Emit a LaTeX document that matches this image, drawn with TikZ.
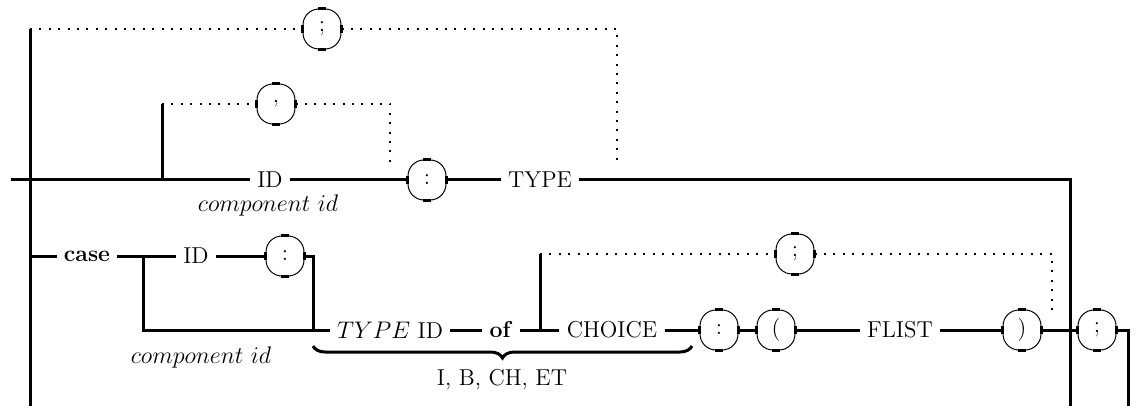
\documentclass[tikz,border=0pt]{standalone}
\usetikzlibrary{decorations.pathreplacing}
\begin{document}
\begin{tikzpicture}[x=0.5pt,y=-0.5pt,
  rail/.style={line width=1.5pt},
  loop/.style={line width=1pt, dash pattern=on 1pt off 3.7pt},
  term/.style={font=\fontsize{11.5}{13}\selectfont, inner xsep=3.5pt, inner ysep=2pt},
  tok/.style={draw, line width=0.5pt, rounded corners=8pt, minimum width=19pt,
    minimum height=20pt, inner sep=0pt, font=\fontsize{11.5}{13}\selectfont},
  note/.style={font=\fontsize{11.5}{13}\selectfont, inner sep=0pt}]
\useasboundingbox (0,0) rectangle (1138,406);

% left spine
\coordinate (lt) at (30,29);
\coordinate (lb) at (30,406);
\draw[rail] (lt) -- (lb);

% field list row
\coordinate (s) at (11,180);
\coordinate (j1) at (162,180);
\node[term] (id1) at (270,180) {ID};
\node[tok] (c1) at (427,180) {:};
\node[term] (type1) at (540,180) {TYPE};
\coordinate (e1) at (1070,180);
\coordinate (e1b) at (1070,406);
\draw[rail] (s) -- (j1) -- (id1);
\draw[rail] (id1) -- (c1);
\draw[rail] (c1) -- (type1);
\draw[rail] (type1) -- (e1) -- (e1b);
\node[note] (cid1) at (268,206) {$component\ id$};

% repetition with ';'
\node[tok] (semi1) at (322,29) {;};
\coordinate (d1b) at (617,29);
\coordinate (d1c) at (617,166);
\draw[loop] (lt) -- (semi1);
\draw[loop] (semi1) -- (d1b) -- (d1c);

% repetition with ','
\coordinate (j1t) at (162,104);
\node[tok] (comma) at (276,104) {,};
\coordinate (d2b) at (390,104);
\coordinate (d2c) at (390,166);
\draw[rail] (j1) -- (j1t);
\draw[loop] (j1t) -- (comma);
\draw[loop] (comma) -- (d2b) -- (d2c);

% variant part
\coordinate (l2) at (30,256);
\node[term] (case) at (87,256) {\textbf{case}};
\coordinate (j2) at (143,256);
\node[term] (id2) at (196,256) {ID};
\node[tok] (c2) at (285,256) {:};
\coordinate (k2) at (313,256);
\coordinate (k2b) at (313,330);
\coordinate (j2b) at (143,330);
\node[term] (typeid) at (390,330) {$TYPE$ ID};
\node[term] (of) at (501,330) {\textbf{of}};
\coordinate (j3) at (540,330);
\node[term] (choice) at (612,330) {CHOICE};
\node[tok] (c3) at (719,330) {:};
\node[tok] (lp) at (776,330) {(};
\node[term] (flist) at (900,330) {FLIST};
\node[tok] (rp) at (1022,330) {)};
\node[tok] (semi3) at (1097,330) {;};
\coordinate (k3) at (1128,330);
\coordinate (k3b) at (1128,406);
\node[note] (cid2) at (201,357) {$component\ id$};

\draw[rail] (l2) -- (case);
\draw[rail] (case) -- (j2) -- (id2);
\draw[rail] (id2) -- (c2);
\draw[rail] (c2) -- (k2) -- (k2b);
\draw[rail] (j2) -- (j2b) -- (typeid);
\draw[rail] (typeid) -- (of);
\draw[rail] (of) -- (j3) -- (choice);
\draw[rail] (choice) -- (c3);
\draw[rail] (c3) -- (lp);
\draw[rail] (lp) -- (flist);
\draw[rail] (flist) -- (rp);
\draw[rail] (rp) -- (semi3);
\draw[rail] (semi3) -- (k3) -- (k3b);

% repetition of choices with ';'
\coordinate (j3t) at (540,254);
\node[tok] (semi2) at (795,254) {;};
\coordinate (d3b) at (1052,254);
\coordinate (d3c) at (1052,314);
\draw[rail] (j3) -- (j3t);
\draw[loop] (j3t) -- (semi2);
\draw[loop] (semi2) -- (d3b) -- (d3c);

% thick joints on the token boxes
\foreach \n in {semi1,comma,c1,c2,c3,lp,rp,semi2,semi3}{
  \draw[line width=1.5pt] ([yshift=-2pt]\n.west) -- ([yshift=2pt]\n.west);
  \draw[line width=1.5pt] ([yshift=-2pt]\n.east) -- ([yshift=2pt]\n.east);
  \draw[line width=1.5pt] ([xshift=-2pt]\n.north) -- ([xshift=2pt]\n.north);
  \draw[line width=1.5pt] ([xshift=-2pt]\n.south) -- ([xshift=2pt]\n.south);
}

% group brace
\coordinate (b1) at (313,346);
\coordinate (b2) at (692,346);
\draw[rail, decorate, decoration={brace, mirror, amplitude=6pt}] (b1) -- (b2);
\node[note] (grp) at (502,380) {I, B, CH, ET};
\end{tikzpicture}
\end{document}
